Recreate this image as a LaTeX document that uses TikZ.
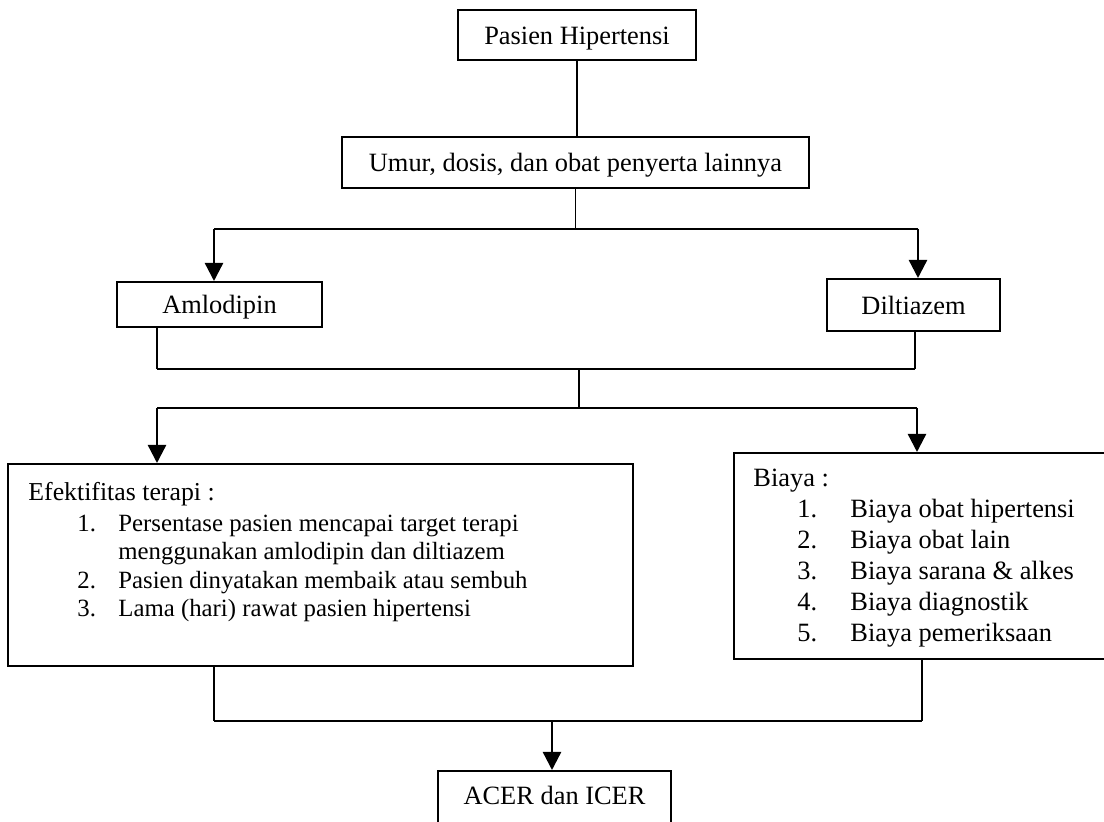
\documentclass[tikz,border=0pt]{standalone}
\usepackage{fontspec}
\setmainfont{Liberation Serif}
\usetikzlibrary{arrows.meta}
\tikzset{
  box/.style={draw, line width=1pt, inner sep=0pt, anchor=base, font=\fontsize{13.2}{15.5}\selectfont},
  frame/.style={draw, line width=1pt, inner sep=0pt, anchor=north west},
  txt/.style={inner sep=0pt, anchor=base west, font=\fontsize{13.2}{15.5}\selectfont},
  smalltxt/.style={txt, font=\fontsize{12.4}{15}\selectfont},
  conn/.style={line width=0.6pt},
  arr/.style={line width=1.2pt, -{Triangle[length=9pt, width=9pt]}},
}
\begin{document}
\begin{tikzpicture}[x=0.5pt, y=-0.5pt]
  \useasboundingbox (0,0) rectangle (1104,822);
  % boxes
  \node[box, minimum width=119pt, text height=17.5pt, text depth=7.5pt] (pasien) at (577,45) {Pasien Hipertensi};
  \node[box, minimum width=233.5pt, text height=17.5pt, text depth=8pt] (umur) at (575.5,172) {Umur, dosis, dan obat penyerta lainnya};
  \node[box, minimum width=102.5pt, text height=16pt, text depth=6.5pt] (amlo) at (219.5,314) {Amlodipin};
  \node[box, minimum width=86.5pt, text height=18pt, text depth=8pt] (dilt) at (913.5,315) {Diltiazem};
  \node[frame, minimum width=312.5pt, minimum height=101pt] (efek) at (7,463) {};
  \node[frame, minimum width=187.5pt, minimum height=103pt] (biaya) at (733,452) {};
  \node[box, minimum width=116.5pt, text height=17pt, text depth=14pt] (acer) at (554.5,805) {ACER dan ICER};

  % efektifitas terapi
  \node[txt, font=\fontsize{12.9}{15}\selectfont] (efekhead) at (28,501) {Efektifitas terapi :};
  \node[smalltxt] (e1n) at (77,532) {1.};
  \node[smalltxt] (e1) at (118,532) {Persentase pasien mencapai target terapi};
  \node[smalltxt] (e1b) at (118,560) {menggunakan amlodipin dan diltiazem};
  \node[smalltxt] (e2n) at (77,589) {2.};
  \node[smalltxt] (e2) at (118,589) {Pasien dinyatakan membaik atau sembuh};
  \node[smalltxt] (e3n) at (77,617) {3.};
  \node[smalltxt] (e3) at (118,617) {Lama (hari) rawat pasien hipertensi};

  % biaya
  \node[txt] (biayahead) at (753,487) {Biaya :};
  \foreach \i/\lbl in {1/Biaya obat hipertensi, 2/Biaya obat lain, 3/Biaya sarana \& alkes, 4/Biaya diagnostik, 5/Biaya pemeriksaan} {
    \node[txt] (b\i n) at (797,{487+31*\i}) {\i.};
    \node[txt] (b\i) at (850,{487+31*\i}) {\lbl};
  }

  % connectors
  \coordinate (s1l) at (214,229);
  \coordinate (s1r) at (918,229);
  \coordinate (m1l) at (157,369);
  \coordinate (m1r) at (915,369);
  \coordinate (m1) at (579,369);
  \coordinate (m2) at (579,408);
  \coordinate (m2l) at (157,408);
  \coordinate (m2r) at (917,408);
  \coordinate (b3l) at (214,721);
  \coordinate (b3r) at (922,721);
  \coordinate (b3) at (552,721);

  \draw[conn] (pasien.south) -- (pasien.south |- umur.north);
  \draw[conn] (umur.south) -- (umur.south |- s1l);
  \draw[conn] (s1l) -- (s1r);
  \draw[arr] (s1l) -- (s1l |- amlo.north);
  \draw[arr] (s1r) -- (s1r |- dilt.north);

  \draw[conn] (m1l |- amlo.south) -- (m1l);
  \draw[conn] (m1r |- dilt.south) -- (m1r);
  \draw[conn] (m1l) -- (m1r);
  \draw[conn] (m1) -- (m2);
  \draw[conn] (m2l) -- (m2r);
  \draw[arr] (m2l) -- (m2l |- efek.north);
  \draw[arr] (m2r) -- (m2r |- biaya.north);

  \draw[conn] (b3l |- efek.south) -- (b3l);
  \draw[conn] (b3r |- biaya.south) -- (b3r);
  \draw[conn] (b3l) -- (b3r);
  \draw[arr] (b3) -- (b3 |- acer.north);
\end{tikzpicture}
\end{document}
